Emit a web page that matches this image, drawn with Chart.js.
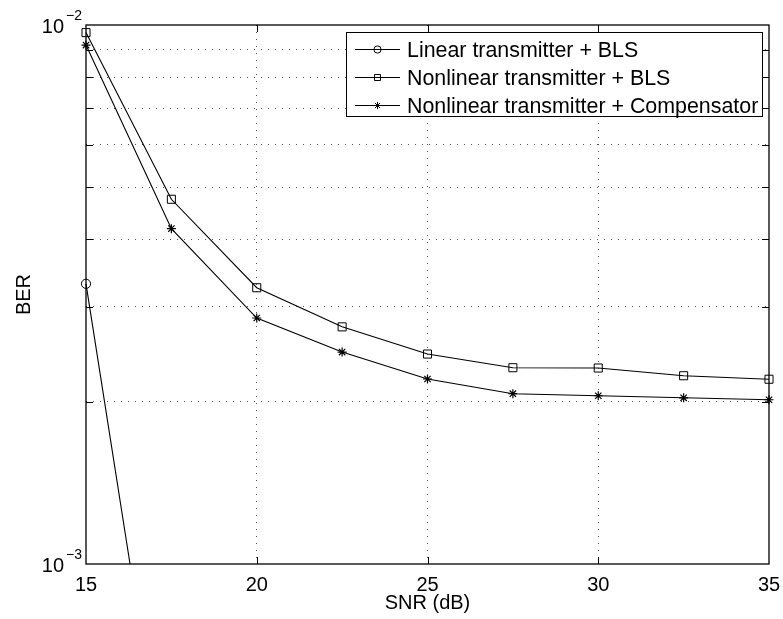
<!DOCTYPE html>
<html>
<head>
<meta charset="utf-8">
<script src="https://cdn.jsdelivr.net/npm/chart.js@4.4.1/dist/chart.umd.min.js"></script>
<style>
    html, body { margin: 0; padding: 0; background: #fff; }
    #wrap { width: 783px; height: 619px; }
</style>
</head>
<body>
<div id="wrap"><canvas id="myChart" width="783" height="619"></canvas></div>
<script>
    // values
    var snr = [15, 17.5, 20, 22.5, 25, 27.5, 30, 32.5, 35];
    var berLinear = [0.00331, 0.000325, 0.00003, 0.000003];
    var berNonlinBLS = [0.00968, 0.00475, 0.003255, 0.002754, 0.002452, 0.002313, 0.00231, 0.002235, 0.002202];
    var berComp = [0.00918, 0.00419, 0.00286, 0.002473, 0.002204, 0.00207, 0.002052, 0.002034, 0.002017];
    var seriesNames = ['Linear transmitter + BLS', 'Nonlinear transmitter + BLS', 'Nonlinear transmitter + Compensator'];
    var xTickVals = [15, 20, 25, 30, 35];
    var yGridVals = [0.001, 0.002, 0.003, 0.004, 0.005, 0.006, 0.007, 0.008, 0.009, 0.01];
    var yLabelVals = [0.001, 0.01];
    var yLabelExps = ['\u22123', '\u22122'];

    var FONT = '"Liberation Sans", Arial, Helvetica, sans-serif';

    function pts(vals) {
        var out = new Array();
        for (var i = 0; i < vals.length; i++) {
            out.push({ x: snr[i], y: vals[i] });
        }
        return out;
    }

    function isEdge(v, a, b) {
        return Math.abs(v - a) < 1e-9 || Math.abs(v - b) < 1e-9;
    }

    var framePlugin = {
        id: 'framePlugin',
        afterDraw: function (chart) {
            var ctx = chart.ctx;
            var a = chart.chartArea;
            var xs = chart.scales.x;
            var ys = chart.scales.y;
            ctx.save();

            // inward tick marks
            ctx.strokeStyle = '#000';
            ctx.lineWidth = 1;
            var tl = 7;
            xs.ticks.forEach(function (t) {
                if (isEdge(t.value, 15, 35)) return;
                var px = Math.round(xs.getPixelForValue(t.value)) + 0.5;
                ctx.beginPath();
                ctx.moveTo(px, a.bottom); ctx.lineTo(px, a.bottom - tl);
                ctx.moveTo(px, a.top); ctx.lineTo(px, a.top + tl);
                ctx.stroke();
            });
            ys.ticks.forEach(function (t) {
                if (isEdge(t.value, 0.001, 0.01)) return;
                var py = Math.round(ys.getPixelForValue(t.value)) + 0.5;
                ctx.beginPath();
                ctx.moveTo(a.left, py); ctx.lineTo(a.left + tl, py);
                ctx.moveTo(a.right, py); ctx.lineTo(a.right - tl, py);
                ctx.stroke();
            });

            // box round the plot
            ctx.lineWidth = 1.3;
            ctx.strokeRect(a.left, a.top, a.right - a.left, a.bottom - a.top);

            // y tick labels with superscripts
            ctx.fillStyle = '#000';
            ctx.textAlign = 'right';
            ctx.textBaseline = 'alphabetic';
            for (var i = 0; i < yLabelVals.length; i++) {
                var py = ys.getPixelForValue(yLabelVals[i]);
                ctx.font = '20px ' + FONT;
                ctx.fillText('10', 64, py + 7.5);
                ctx.font = '14px ' + FONT;
                ctx.fillText(yLabelExps[i], 82, py - 5);
            }

            // legend inside the plot
            var lx = 346, ly = 32, lw = 416, lh = 84;
            ctx.fillStyle = '#fff';
            ctx.fillRect(lx, ly, lw, lh);
            ctx.lineWidth = 1;
            ctx.strokeStyle = '#000';
            ctx.strokeRect(lx + 0.5, ly + 0.5, lw, lh);
            chart.data.datasets.forEach(function (ds, k) {
                var ry = 49 + k * 28;
                ctx.strokeStyle = '#000';
                ctx.lineWidth = 1;
                ctx.beginPath();
                ctx.moveTo(355, ry + 0.5); ctx.lineTo(400, ry + 0.5);
                ctx.stroke();
                ctx.fillStyle = 'rgba(0,0,0,0)';
                Chart.helpers.drawPoint(ctx, {
                    pointStyle: ds.pointStyle, rotation: 0,
                    radius: ds.pointStyle === 'rect' ? 4.2 : 3.6, borderWidth: 1
                }, 377.5, ry + 0.5);
                ctx.fillStyle = '#000';
                ctx.textAlign = 'left';
                ctx.font = '21.4px ' + FONT;
                ctx.fillText(ds.label, 407, ry + 7.5);
            });
            ctx.restore();
        }
    };

    var data = {
        datasets: [
            {
                label: seriesNames[0],
                data: pts(berLinear),
                borderColor: '#000', borderWidth: 1.1,
                pointStyle: 'circle', pointRadius: 4.6,
                pointBorderColor: '#000', pointBackgroundColor: 'rgba(0,0,0,0)', pointBorderWidth: 1,
                clip: { left: 10, top: 10, right: 10, bottom: 0 }
            },
            {
                label: seriesNames[1],
                data: pts(berNonlinBLS),
                borderColor: '#000', borderWidth: 1.1,
                pointStyle: 'rect', pointRadius: 5.7,
                pointBorderColor: '#000', pointBackgroundColor: 'rgba(0,0,0,0)', pointBorderWidth: 1,
                clip: { left: 10, top: 10, right: 10, bottom: 0 }
            },
            {
                label: seriesNames[2],
                data: pts(berComp),
                borderColor: '#000', borderWidth: 1.1,
                pointStyle: 'star', pointRadius: 4.5,
                pointBorderColor: '#000', pointBackgroundColor: 'rgba(0,0,0,0)', pointBorderWidth: 1.2,
                clip: { left: 10, top: 10, right: 10, bottom: 0 }
            }
        ]
    };

    var config = {
        type: 'line',
        data: data,
        plugins: [framePlugin],
        options: {
            responsive: false,
            animation: false,
            layout: { padding: { left: 0, right: 14, top: 25, bottom: 0 } },
            plugins: {
                legend: { display: false },
                tooltip: { enabled: false }
            },
            scales: {
                x: {
                    type: 'linear',
                    min: 15,
                    max: 35,
                    afterBuildTicks: function (scale) {
                        scale.ticks = xTickVals.map(function (v) { return { value: v }; });
                    },
                    afterFit: function (scale) {
                        scale.height = 55;
                        scale.paddingLeft = 0;
                        scale.paddingRight = 0;
                    },
                    ticks: {
                        color: '#000',
                        padding: 9,
                        maxRotation: 0,
                        font: { size: 20, family: FONT }
                    },
                    grid: {
                        drawTicks: false,
                        lineWidth: 1,
                        color: function (context) {
                            if (context.tick && isEdge(context.tick.value, 15, 35)) return 'rgba(0,0,0,0)';
                            return '#555';
                        }
                    },
                    border: { display: false, dash: [1, 6] },
                    title: {
                        display: true,
                        text: 'SNR (dB)',
                        color: '#000',
                        font: { size: 20, family: FONT },
                        padding: { top: 4, bottom: 4 }
                    }
                },
                y: {
                    type: 'logarithmic',
                    min: 0.001,
                    max: 0.01,
                    afterBuildTicks: function (scale) {
                        scale.ticks = yGridVals.map(function (v) { return { value: v }; });
                    },
                    afterFit: function (scale) {
                        scale.width = 86;
                        scale.paddingTop = 0;
                        scale.paddingBottom = 0;
                    },
                    ticks: {
                        callback: function () { return ''; }
                    },
                    grid: {
                        drawTicks: false,
                        lineWidth: 1,
                        color: function (context) {
                            if (context.tick && isEdge(context.tick.value, 0.001, 0.01)) return 'rgba(0,0,0,0)';
                            return '#555';
                        }
                    },
                    border: { display: false, dash: [1, 6] },
                    title: {
                        display: true,
                        text: 'BER',
                        color: '#000',
                        font: { size: 20, family: FONT },
                        padding: { top: 12, bottom: 12 }
                    }
                }
            }
        }
    };

    var ctx = document.getElementById('myChart').getContext('2d');
    var myChart = new Chart(ctx, config);
</script>
</body>
</html>
